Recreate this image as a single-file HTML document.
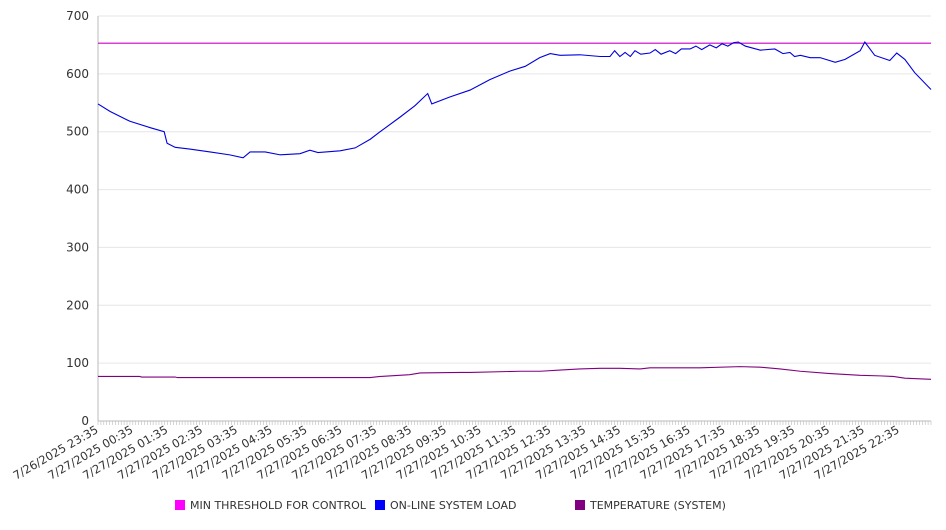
<!DOCTYPE html>
<html><head><meta charset="utf-8"><style>
body{margin:0;background:#fff;font-family:"DejaVu Sans","Liberation Sans",sans-serif}
svg text{font-family:"DejaVu Sans","Liberation Sans",sans-serif}
</style></head><body>
<svg id="chart" width="946" height="526" xmlns="http://www.w3.org/2000/svg"></svg>
<script>
const yTicks=[0,100,200,300,400,500,600,700];
const xLabels=["7/26/2025 23:35","7/27/2025 00:35","7/27/2025 01:35","7/27/2025 02:35","7/27/2025 03:35","7/27/2025 04:35","7/27/2025 05:35","7/27/2025 06:35","7/27/2025 07:35","7/27/2025 08:35","7/27/2025 09:35","7/27/2025 10:35","7/27/2025 11:35","7/27/2025 12:35","7/27/2025 13:35","7/27/2025 14:35","7/27/2025 15:35","7/27/2025 16:35","7/27/2025 17:35","7/27/2025 18:35","7/27/2025 19:35","7/27/2025 20:35","7/27/2025 21:35","7/27/2025 22:35"];
const thresholdValue=653;
const loadMinutes=[0,21,55,90,114,119,133,158,193,227,250,262,288,314,348,365,379,417,443,469,486,520,546,568,575,606,641,675,710,736,761,779,796,830,865,882,890,899,908,917,925,935,951,960,970,985,995,1005,1020,1030,1040,1054,1065,1075,1085,1095,1103,1115,1141,1166,1180,1192,1200,1210,1227,1244,1270,1287,1313,1321,1338,1364,1376,1390,1407,1435];
const loadValues=[548,535,518,507,500,480,473,470,465,460,455,465,465,460,462,468,464,467,472,487,500,525,545,566,548,560,572,590,605,613,628,635,632,633,630,630,640,630,637,630,640,634,636,642,634,640,635,643,643,648,642,650,645,652,648,654,655,648,641,643,635,637,630,632,628,628,620,625,640,655,632,623,636,625,602,573];
const tempMinutes=[0,72,75,133,137,469,486,537,555,624,641,727,762,796,830,865,899,934,951,1037,1106,1141,1175,1210,1261,1313,1347,1370,1390,1435];
const tempValues=[77,77,76,76,75,75,77,80,83,84,84,86,86,88,90,91,91,90,92,92,94,93,90,86,82,79,78,77,74,72];
const NS="http://www.w3.org/2000/svg";
const svg=document.getElementById('chart');
const L=98,R=931,T=16,B=421,MAXMIN=1435;
const yS=v=>B-(v/700)*(B-T);
const xS=m=>L+(m/MAXMIN)*(R-L);
function mk(tag,attrs,parent){const e=document.createElementNS(NS,tag);for(const k in attrs)e.setAttribute(k,attrs[k]);(parent||svg).appendChild(e);return e;}
yTicks.forEach(v=>{
 const g=mk('line',{x1:L,x2:R,y1:yS(v),y2:yS(v),stroke:v===0?'#bbb':'#e6e6e6','stroke-width':1});
 
 
 const t=mk('text',{x:89,y:yS(v)+4,'text-anchor':'end','font-size':12,fill:'#333'});
 t.textContent=v;
 
 
});
const ax=mk('line',{x1:L,x2:L,y1:T,y2:B,stroke:'#bbb'});


for(let i=0;i<288;i++){const x=xS(i*5);const tk=mk('line',{x1:x,x2:x,y1:B,y2:B+4,stroke:'#bbb','stroke-width':0.6});
 
 }
xLabels.forEach((s,i)=>{const x=xS(i*60)+1;
 const t=mk('text',{x:x,y:B+11,'text-anchor':'end','font-size':11.5,fill:'#333',transform:`rotate(-30 ${x} ${B+11})`});
 t.textContent=s;
 
 });
const th=mk('line',{x1:L,x2:R,y1:yS(thresholdValue),y2:yS(thresholdValue),stroke:'#cc00cc','stroke-width':1.1});


const lp=mk('polyline',{points:loadMinutes.map((m,i)=>xS(m)+','+yS(loadValues[i])).join(' '),fill:'none',stroke:'#0000dd','stroke-width':1.1});


const tp=mk('polyline',{points:tempMinutes.map((m,i)=>xS(m)+','+yS(tempValues[i])).join(' '),fill:'none',stroke:'#800080','stroke-width':1.1});


[["MIN THRESHOLD FOR CONTROL","#ff00ff",175],["ON-LINE SYSTEM LOAD","#0000ff",375],["TEMPERATURE (SYSTEM)","#800080",575]].forEach(([n,c,x])=>{
 const r=mk('rect',{x:x,y:500,width:10,height:10,fill:c});
 
 
 const t=mk('text',{x:x+15,y:509,'font-size':11,fill:'#333'});
 t.textContent=n;
 
 
});
</script>
</body></html>
